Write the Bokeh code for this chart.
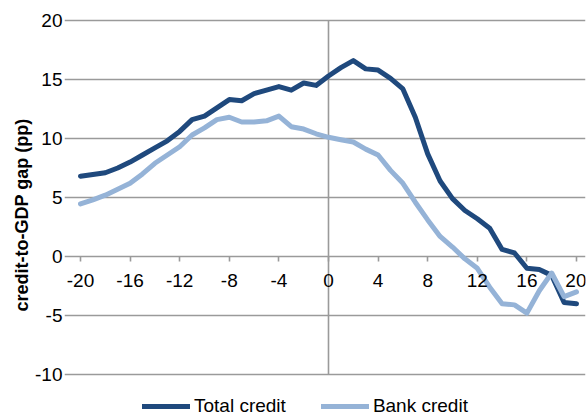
from bokeh.plotting import figure
from bokeh.models import (LinearAxis, FixedTicker, Legend, LegendItem, Range1d,
                          CustomJSTickFormatter, Title)
from bokeh.embed import file_html
from bokeh.resources import INLINE

# ---- data ----
quarters = list(range(-20, 21))
total_credit = [6.8, 6.95, 7.1, 7.5, 8.0, 8.6, 9.2, 9.8, 10.6, 11.6,
                11.9, 12.6, 13.3, 13.2, 13.8, 14.1, 14.4, 14.1, 14.7, 14.5,
                15.3, 16.0, 16.6, 15.9, 15.8, 15.1, 14.2, 11.8, 8.7, 6.4,
                4.9, 3.9, 3.2, 2.4, 0.6, 0.3, -1.0, -1.1, -1.6, -3.9, -4.0]
bank_credit = [4.45, 4.8, 5.2, 5.7, 6.2, 7.0, 7.9, 8.6, 9.3, 10.3,
               10.9, 11.6, 11.8, 11.4, 11.4, 11.5, 11.9, 11.0, 10.8, 10.4,
               10.1, 9.9, 9.7, 9.1, 8.6, 7.3, 6.2, 4.6, 3.1, 1.7,
               0.8, -0.2, -1.0, -2.6, -4.0, -4.1, -4.8, -2.9, -1.4, -3.4, -3.0]
x_ticks = list(range(-20, 21, 4))
y_ticks = [-10, -5, 0, 5, 10, 15, 20]
series_names = ["Total credit", "Bank credit"]
y_label = "credit-to-GDP gap (pp)"

DARK = "#1F497D"
LIGHT = "#95B3D7"
GRID = "#9A9A9A"
FONT = "Liberation Sans"

p = figure(width=586, height=418, output_backend="svg", toolbar_location=None,
           x_range=Range1d(-21.29, 20.726), y_range=Range1d(-13.644, 20.678),
           x_axis_location=None, y_axis_location="left",
           min_border_left=64, min_border_right=1, min_border_top=12,
           min_border_bottom=1)
p.outline_line_color = None
p.background_fill_color = "white"
p.border_fill_color = "white"

# y axis
yax = p.yaxis[0]
yax.ticker = FixedTicker(ticks=y_ticks)
yax.formatter = CustomJSTickFormatter(code="return String(tick);")
yax.axis_line_color = None
yax.major_tick_line_color = None
yax.minor_tick_line_color = None
yax.major_tick_out = 0
yax.major_tick_in = 0
yax.major_label_standoff = 2
yax.major_label_text_font = FONT
yax.major_label_text_font_size = "19px"
yax.major_label_text_color = "black"

# y axis title, shifted up to sit centred on the -10..20 span
ytitle = Title(text=y_label, align="center", offset=27, standoff=2,
               text_font=FONT, text_font_style="bold", text_font_size="18px",
               text_color="black")
p.add_layout(ytitle, "left")

# horizontal grid (also provides the axis line at 0), limited to -20..20
p.xgrid.visible = False
p.ygrid.ticker = FixedTicker(ticks=y_ticks)
p.ygrid.bounds = (x_ticks[0], x_ticks[-1])
p.ygrid.grid_line_color = GRID
p.ygrid.grid_line_width = 1.6

# vertical line at 0
p.segment(x0=[0], y0=[y_ticks[0]], x1=[0], y1=[y_ticks[-1]],
          line_color=GRID, line_width=1.6)

# x axis crossing at y = 0 (ticks and labels hang below the zero line)
xax = LinearAxis(fixed_location=0)
xax.ticker = FixedTicker(ticks=x_ticks)
xax.formatter = CustomJSTickFormatter(code="return String(tick);")
xax.axis_line_color = None
xax.major_tick_line_color = GRID
xax.major_tick_line_width = 1.6
xax.major_tick_out = 0
xax.major_tick_in = 5
xax.minor_tick_line_color = None
xax.major_label_standoff = -30
xax.major_label_text_font = FONT
xax.major_label_text_font_size = "19px"
xax.major_label_text_color = "black"
p.add_layout(xax, "above")

r1 = p.line(quarters, total_credit, line_color=DARK, line_width=5,
            line_join="round", line_cap="round")
r2 = p.line(quarters, bank_credit, line_color=LIGHT, line_width=5,
            line_join="round", line_cap="round")

legend = Legend(items=[LegendItem(label=series_names[0], renderers=[r1]),
                       LegendItem(label=series_names[1], renderers=[r2])],
                orientation="horizontal", location=(78, 0),
                glyph_width=48, glyph_height=20, label_height=20,
                label_standoff=4, spacing=35,
                padding=0, margin=0, border_line_color=None,
                background_fill_alpha=0,
                label_text_font=FONT, label_text_font_size="19px",
                label_text_color="black")
p.add_layout(legend, "center")

open("out.html", "w").write(file_html(p, INLINE))
